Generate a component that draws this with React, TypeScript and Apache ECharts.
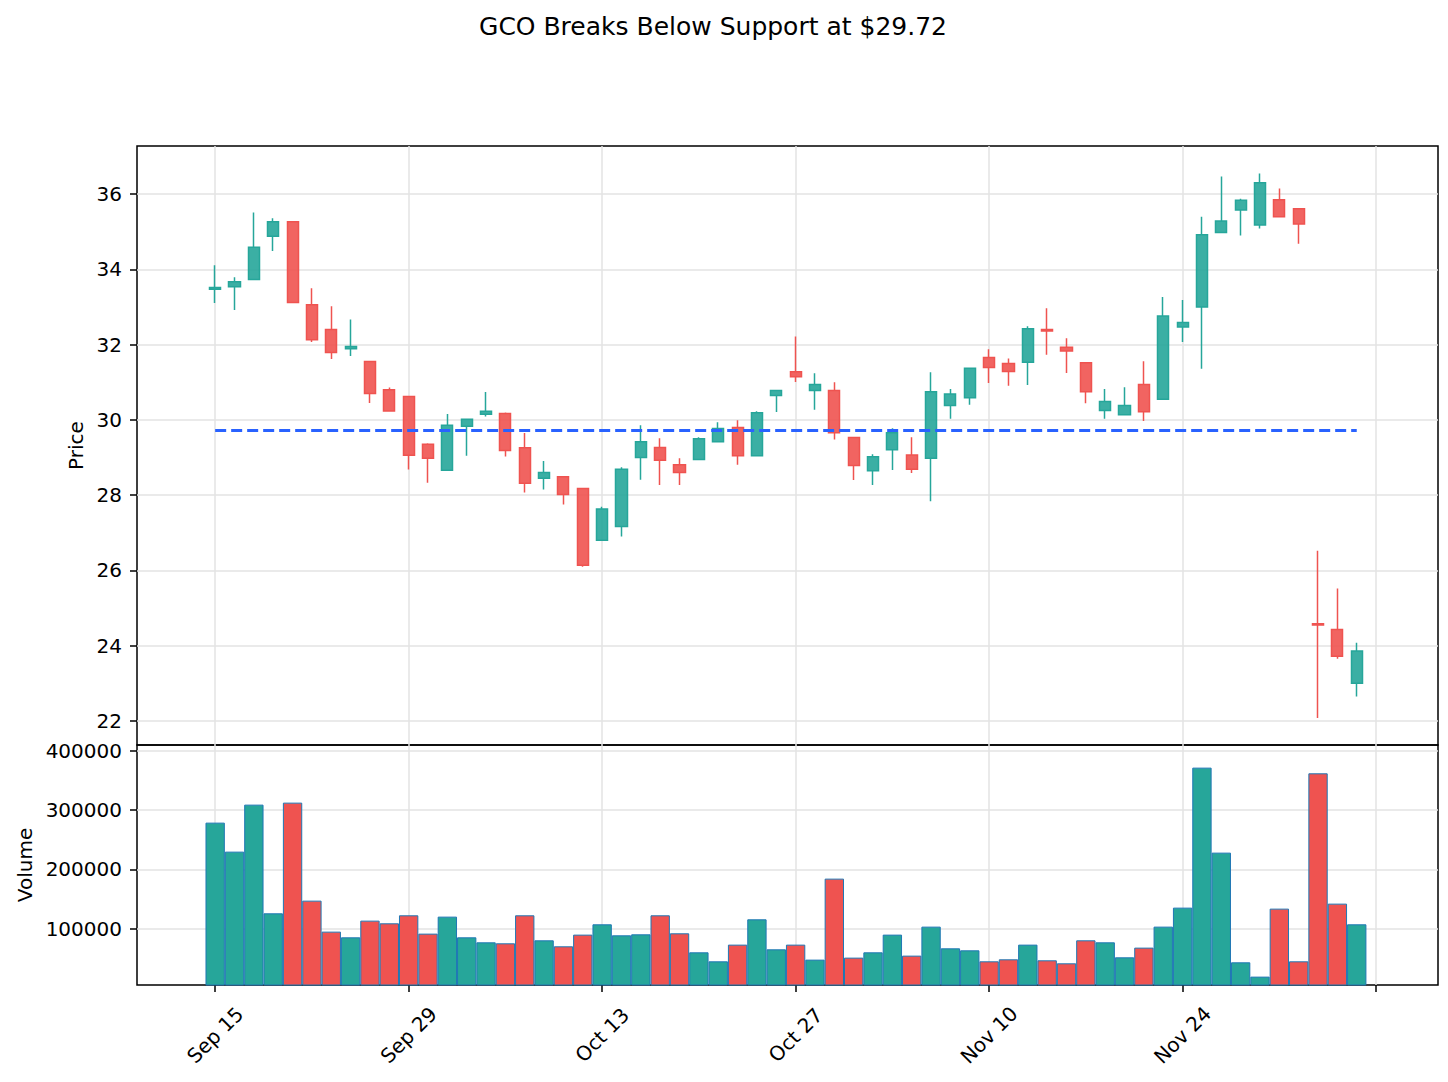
import React, { useEffect, useRef } from 'react';
import * as echarts from 'echarts';

const TITLE = 'GCO Breaks Below Support at $29.72';
const SUPPORT_LEVEL = 29.72;
const SUPPORT_START = 0;
const SUPPORT_END = 59;

const opens = [
  33.47, 33.54, 33.73, 34.88, 35.27, 33.06, 32.40, 31.89, 31.55, 30.80,
  30.62, 29.35, 28.66, 29.83, 30.15, 30.17, 29.26, 28.45, 28.49, 28.18,
  26.80, 27.17, 29.00, 29.27, 28.81, 28.95, 29.42, 29.80, 29.05, 30.65,
  31.28, 30.78, 30.78, 29.53, 28.65, 29.21, 29.07, 28.98, 30.38, 30.59,
  31.66, 31.50, 31.53, 32.40, 31.93, 31.52, 30.25, 30.14, 30.94, 30.55,
  32.47, 33.00, 34.98, 35.58, 35.18, 35.85, 35.61, 24.58, 24.43, 23.00,
];
const closes = [
  33.52, 33.67, 34.59, 35.27, 33.12, 32.13, 31.79, 31.95, 30.70, 30.24,
  29.06, 28.98, 29.86, 30.02, 30.23, 29.19, 28.32, 28.60, 28.02, 26.14,
  27.63, 28.69, 29.42, 28.93, 28.60, 29.50, 29.77, 29.05, 30.19, 30.78,
  31.15, 30.94, 29.66, 28.79, 29.02, 29.66, 28.69, 30.75, 30.69, 31.37,
  31.39, 31.29, 32.42, 32.36, 31.83, 30.75, 30.49, 30.38, 30.22, 32.76,
  32.59, 34.92, 35.29, 35.84, 36.30, 35.40, 35.21, 24.55, 23.72, 23.86,
];
const lows = [
  33.11, 32.92, 33.73, 34.49, 33.12, 32.07, 31.62, 31.70, 30.45, 30.24,
  28.68, 28.33, 28.66, 29.05, 30.09, 29.03, 28.07, 28.15, 27.75, 26.10,
  26.80, 26.90, 28.41, 28.27, 28.27, 28.95, 29.42, 28.81, 29.05, 30.21,
  31.01, 30.27, 29.48, 28.40, 28.27, 28.67, 28.59, 27.84, 30.03, 30.40,
  30.98, 30.91, 30.93, 31.73, 31.25, 30.44, 30.03, 30.14, 29.97, 30.55,
  32.07, 31.36, 34.98, 34.90, 35.09, 35.40, 34.68, 22.08, 23.65, 22.65,
];
const highs = [
  34.11, 33.79, 35.51, 35.36, 35.27, 33.50, 33.02, 32.67, 31.55, 30.86,
  30.62, 29.38, 30.16, 30.04, 30.74, 30.20, 29.65, 28.91, 28.49, 28.18,
  27.69, 28.74, 29.86, 29.51, 28.98, 29.54, 29.94, 29.99, 30.23, 30.78,
  32.22, 31.24, 31.00, 29.53, 29.09, 29.78, 29.54, 31.27, 30.82, 31.37,
  31.88, 31.63, 32.49, 32.97, 32.17, 31.52, 30.82, 30.87, 31.56, 33.27,
  33.19, 35.40, 36.47, 35.88, 36.55, 36.15, 35.61, 26.52, 25.52, 24.08,
];
const volumes = [
  278650, 229780, 308990, 125840, 312360, 147190, 94940, 85390, 113480, 108990,
  122470, 91570, 120220, 85390, 76970, 75280, 122470, 80340, 70220, 89890,
  107300, 88760, 90450, 122470, 92130, 60110, 44940, 73030, 115730, 65170,
  73030, 47750, 184270, 51120, 60110, 89890, 54490, 103370, 66850, 63480,
  44940, 48310, 73030, 46630, 41570, 80340, 76970, 51690, 67980, 103370,
  135390, 371350, 228090, 43260, 19100, 133710, 44940, 361800, 142130, 107300,
];

const X_TICK_POSITIONS = [0, 10, 20, 30, 40, 50, 60];
const X_TICK_LABELS = ['Sep 15', 'Sep 29', 'Oct 13', 'Oct 27', 'Nov 10', 'Nov 24', ''];
const PRICE_TICKS = [22, 24, 26, 28, 30, 32, 34, 36];
const VOLUME_TICKS = [100000, 200000, 300000, 400000];

const X_MIN = -4.04;
const X_MAX = 63.2;
const PRICE_MIN = 21.36;
const PRICE_MAX = 37.28;
const VOL_MIN = 5000;
const VOL_MAX = 409500;

const UP = '#26a69a';
const DOWN = '#ef5350';
const FONT = 'DejaVu Sans';

const GRID_LEFT = 137;
const GRID_WIDTH = 1301;
const PRICE_TOP = 146;
const PRICE_HEIGHT = 599;
const VOL_TOP = 745;
const VOL_HEIGHT = 240;

export default function App() {
  const ref = useRef<HTMLDivElement>(null);

  useEffect(() => {
    if (!ref.current) return;
    const chart = echarts.init(ref.current, null, { renderer: 'svg' });
    const step = GRID_WIDTH / (X_MAX - X_MIN);

    const splitLine = { show: true, lineStyle: { color: '#e3e3e3', width: 1.5 } };
    const tickStyle = { color: '#000', width: 1.5 };
    const labelFmt = (v: number) => {
      const i = X_TICK_POSITIONS.indexOf(Math.round(v));
      return i >= 0 ? X_TICK_LABELS[i] : '';
    };

    const makeX = (gridIndex: number) => ({
      type: 'value',
      gridIndex,
      min: X_MIN,
      max: X_MAX,
      axisLine: { show: false, onZero: false },
      axisTick: {
        show: gridIndex === 1,
        customValues: X_TICK_POSITIONS,
        length: 7,
        lineStyle: tickStyle,
      },
      axisLabel: {
        show: gridIndex === 1,
        customValues: X_TICK_POSITIONS,
        formatter: labelFmt,
        rotate: 45,
        align: 'center',
        verticalAlign: 'middle',
        margin: 50,
        fontSize: 20,
        fontFamily: FONT,
        color: '#000',
      },
      splitLine,
    });

    const candleData = opens.map((o, i) => [i, o, closes[i], lows[i], highs[i]]);
    const volData = volumes.map((v, i) => ({
      value: [i, v],
      itemStyle: { color: closes[i] >= opens[i] ? UP : DOWN },
    }));

    const yLabel = {
      margin: 15,
      fontSize: 20,
      fontFamily: FONT,
      color: '#000',
      formatter: (v: number) => String(v),
    };

    chart.setOption({
      animation: false,
      backgroundColor: '#ffffff',
      graphic: [
        {
          type: 'text',
          x: 713,
          y: 26,
          style: {
            text: TITLE,
            fontSize: 25,
            fontFamily: FONT,
            fill: '#000',
            align: 'center',
            verticalAlign: 'middle',
          },
        },
      ],
      grid: [
        {
          left: GRID_LEFT,
          top: PRICE_TOP,
          width: GRID_WIDTH,
          height: PRICE_HEIGHT,
          show: true,
          borderColor: '#000',
          borderWidth: 1.5,
          backgroundColor: 'transparent',
        },
        {
          left: GRID_LEFT,
          top: VOL_TOP,
          width: GRID_WIDTH,
          height: VOL_HEIGHT,
          show: true,
          borderColor: '#000',
          borderWidth: 1.5,
          backgroundColor: 'transparent',
        },
      ],
      xAxis: [makeX(0), makeX(1)],
      yAxis: [
        {
          type: 'value',
          gridIndex: 0,
          min: PRICE_MIN,
          max: PRICE_MAX,
          axisLine: { show: false, onZero: false },
          axisTick: { show: true, customValues: PRICE_TICKS, length: 7, lineStyle: tickStyle },
          axisLabel: { ...yLabel, customValues: PRICE_TICKS },
          splitLine,
          name: 'Price',
          nameLocation: 'middle',
          nameGap: 48,
          nameTextStyle: { fontSize: 20, fontFamily: FONT, color: '#000' },
        },
        {
          type: 'value',
          gridIndex: 1,
          min: VOL_MIN,
          max: VOL_MAX,
          axisLine: { show: false, onZero: false },
          axisTick: { show: true, customValues: VOLUME_TICKS, length: 7, lineStyle: tickStyle },
          axisLabel: { ...yLabel, customValues: VOLUME_TICKS },
          splitLine,
          name: 'Volume',
          nameLocation: 'middle',
          nameGap: 102,
          nameTextStyle: { fontSize: 20, fontFamily: FONT, color: '#000' },
        },
      ],
      series: [
        {
          type: 'candlestick',
          xAxisIndex: 0,
          yAxisIndex: 0,
          data: candleData,
          encode: { x: 0, y: [1, 2, 3, 4] },
          barWidth: step * 0.6,
          itemStyle: {
            color: 'rgba(38,166,154,0.9)',
            color0: 'rgba(239,83,80,0.9)',
            borderColor: UP,
            borderColor0: DOWN,
            borderWidth: 1.5,
          },
        },
        {
          type: 'line',
          xAxisIndex: 0,
          yAxisIndex: 0,
          data: [
            [SUPPORT_START, SUPPORT_LEVEL],
            [SUPPORT_END, SUPPORT_LEVEL],
          ],
          symbol: 'none',
          lineStyle: { color: '#2962ff', width: 3, type: [11, 5] },
          z: 5,
        },
        {
          type: 'bar',
          xAxisIndex: 1,
          yAxisIndex: 1,
          data: volData,
          barWidth: step,
          itemStyle: { borderColor: '#1f77b4', borderWidth: 1 },
        },
      ],
    });

    return () => chart.dispose();
  }, []);

  return (
    <div
      ref={ref}
      style={{ position: 'absolute', left: 0, top: 0, width: 1448, height: 1082, background: '#fff' }}
    />
  );
}
